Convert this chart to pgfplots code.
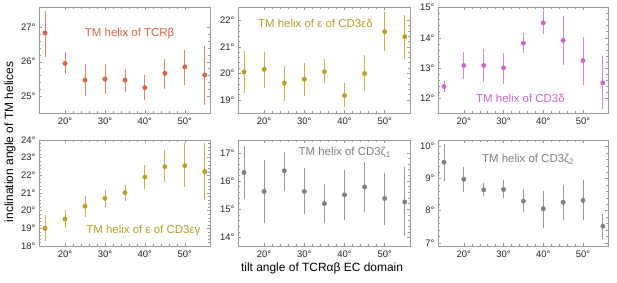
\documentclass[border=0pt]{standalone}
\usepackage{fontspec}
\setmainfont{Liberation Sans}
\usepackage{pgfplots}
\pgfplotsset{compat=1.18}
\usepackage{pgfplotstable}

\definecolor{cred}{HTML}{DC6440}
\definecolor{cgold}{HTML}{B8A024}
\definecolor{cviol}{HTML}{CC66CC}
\definecolor{cgray}{HTML}{7F7F7F}
\definecolor{frame}{HTML}{9A9A9A}

% x y ep em
\pgfplotstableread{
x y ep em
15 26.84 0.63 0.69
20 25.95 0.33 0.31
25 25.46 0.46 0.46
30 25.49 0.43 0.43
35 25.46 0.34 0.36
40 25.24 0.37 0.37
45 25.66 0.41 0.46
50 25.85 0.50 0.52
55 25.61 0.86 0.87
}\tcrb
\pgfplotstableread{
x y ep em
15 20.05 0.80 0.79
20 20.15 0.65 0.71
25 19.63 0.63 0.66
30 19.77 0.61 0.61
35 20.06 0.46 0.44
40 19.16 0.46 0.43
45 19.99 0.69 0.67
50 21.57 0.74 0.73
55 21.38 0.83 0.83
}\epsd
\pgfplotstableread{
x y ep em
15 12.38 0.17 0.19
20 13.08 0.44 0.45
25 13.08 0.53 0.56
30 13.00 0.50 0.53
35 13.82 0.33 0.34
40 14.49 0.41 0.38
45 13.91 0.80 0.80
50 13.24 0.78 0.80
55 12.50 0.89 0.87
}\delt
\pgfplotstableread{
x y ep em
15 19.00 0.75 0.70
20 19.53 0.51 0.53
25 20.25 0.58 0.59
30 20.70 0.47 0.51
35 21.02 0.43 0.47
40 21.90 0.68 0.67
45 22.49 0.94 0.89
50 22.55 1.26 1.23
55 22.21 1.60 1.61
}\epsg
\pgfplotstableread{
x y ep em
15 16.30 0.93 0.93
20 15.63 1.11 1.10
25 16.36 0.68 0.70
30 15.63 0.82 0.81
35 15.20 0.70 0.70
40 15.51 0.88 0.90
45 15.79 0.89 0.89
50 15.38 0.92 0.94
55 15.26 1.23 1.22
}\zetaone
\pgfplotstableread{
x y ep em
15 9.51 0.57 0.58
20 8.98 0.39 0.40
25 8.65 0.20 0.19
30 8.66 0.28 0.28
35 8.30 0.36 0.35
40 8.06 0.56 0.59
45 8.26 0.55 0.56
50 8.32 0.63 0.62
55 7.52 0.39 0.39
}\zetatwo

\pgfplotsset{
  panel/.style={
    scale only axis, width=171bp, height=106bp,
    anchor=south west,
    xmin=13.5, xmax=56.3,
    xtick={20,30,40,50},
    minor x tick num=4,
    minor y tick num=4,
    axis line style={frame, line width=0.5pt},
    every tick/.style={frame, line width=0.4pt},
    major tick length=3bp, minor tick length=1.6bp,
    tick label style={font=\fontsize{9.5}{11}\selectfont, text=black!85},
    /pgf/number format/assume math mode=true,
    xticklabel={\pgfmathprintnumber{\tick}°},
    yticklabel={\pgfmathprintnumber{\tick}°},
    xticklabel style={yshift=-1bp},
    clip=false,
  },
}
\tikzset{lab/.style={text=#1, font=\fontsize{11.5}{13}\selectfont}}

\begin{document}
\begin{tikzpicture}[x=1bp,y=1bp]
\path[use as bounding box] (0,0) rectangle (617,282);

% top row
\begin{axis}[panel, at={(39bp,169bp)}, ymin=24.5, ymax=27.6, ytick={25,26,27}]
\addplot[only marks, mark=*, mark size=2.2bp, color=cred,
    error bars/.cd, y dir=both, y explicit, error mark=none,
    error bar style={draw=cred!80, line width=0.8pt}]
  table[x=x, y=y, y error plus=ep, y error minus=em] {\tcrb};
\node[lab=cred] at (rel axis cs:0.53,0.75) {TM helix of TCRβ};
\end{axis}

\begin{axis}[panel, at={(238bp,169bp)}, width=172bp, ymin=18.5, ymax=22.5, ytick={19,20,21,22}]
\addplot[only marks, mark=*, mark size=2.2bp, color=cgold,
    error bars/.cd, y dir=both, y explicit, error mark=none,
    error bar style={draw=cgold!80, line width=0.8pt}]
  table[x=x, y=y, y error plus=ep, y error minus=em] {\epsd};
\node[lab=cgold] at (rel axis cs:0.45,0.845) {TM helix of ε of CD3εδ};
\end{axis}

\begin{axis}[panel, at={(438bp,169bp)}, width=170bp, ymin=11.5, ymax=15.02, ytick={12,13,14,15}]
\addplot[only marks, mark=*, mark size=2.2bp, color=cviol,
    error bars/.cd, y dir=both, y explicit, error mark=none,
    error bar style={draw=cviol!80, line width=0.8pt}]
  table[x=x, y=y, y error plus=ep, y error minus=em] {\delt};
\node[lab=cviol] at (rel axis cs:0.485,0.14) {TM helix of CD3δ};
\end{axis}

% bottom row
\begin{axis}[panel, at={(39bp,36bp)}, ymin=18, ymax=24, ytick={18,19,...,24}, minor y tick num=4]
\addplot[only marks, mark=*, mark size=2.2bp, color=cgold,
    error bars/.cd, y dir=both, y explicit, error mark=none,
    error bar style={draw=cgold!80, line width=0.8pt}]
  table[x=x, y=y, y error plus=ep, y error minus=em] {\epsg};
\node[lab=cgold] at (rel axis cs:0.61,0.15) {TM helix of ε of CD3εγ};
\end{axis}

\begin{axis}[panel, at={(238bp,36bp)}, width=172bp, ymin=13.7, ymax=17.45, ytick={14,15,16,17}]
\addplot[only marks, mark=*, mark size=2.2bp, color=cgray,
    error bars/.cd, y dir=both, y explicit, error mark=none,
    error bar style={draw=cgray!80, line width=0.8pt}]
  table[x=x, y=y, y error plus=ep, y error minus=em] {\zetaone};
\node[lab=cgray] at (rel axis cs:0.62,0.88) {TM helix of CD3ζ\textsubscript{1}};
\end{axis}

\begin{axis}[panel, at={(438bp,36bp)}, width=170bp, ymin=6.9, ymax=10.2, ytick={7,8,9,10}]
\addplot[only marks, mark=*, mark size=2.2bp, color=cgray,
    error bars/.cd, y dir=both, y explicit, error mark=none,
    error bar style={draw=cgray!80, line width=0.8pt}]
  table[x=x, y=y, y error plus=ep, y error minus=em] {\zetatwo};
\node[lab=cgray] at (rel axis cs:0.53,0.82) {TM helix of CD3ζ\textsubscript{2}};
\end{axis}

\node[rotate=90, font=\fontsize{12}{14}\selectfont] at (10,140) {inclination angle of TM helices};
\node[font=\fontsize{12}{14}\selectfont] at (322,14) {tilt angle of TCRαβ EC domain};
\end{tikzpicture}
\end{document}
